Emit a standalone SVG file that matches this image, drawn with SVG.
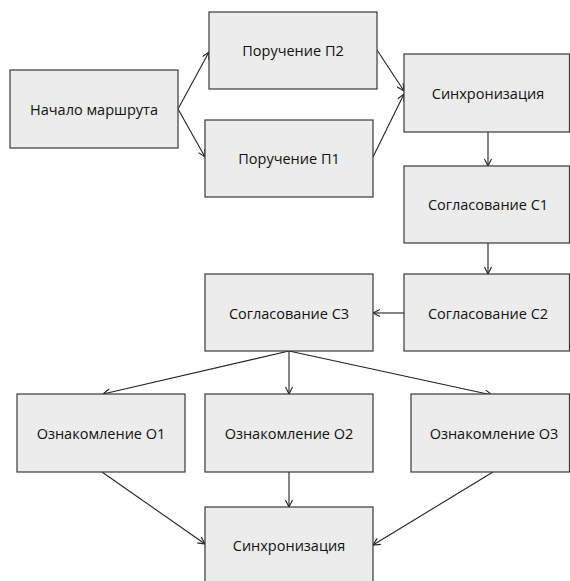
<svg xmlns="http://www.w3.org/2000/svg" width="570" height="581" viewBox="0 0 570 581">
<defs>
<style>
.box{fill:#ececec;stroke:#3a3a3a;stroke-width:1.2}
.lbl{font-family:"Open Sans","Liberation Sans",Arial,sans-serif;font-size:14.5px;fill:#111;text-anchor:middle;dominant-baseline:central}
.edge{fill:none;stroke:#222;stroke-width:1.1;marker-end:url(#arr)}
</style>
<marker id="arr" markerUnits="userSpaceOnUse" markerWidth="10" markerHeight="10" refX="8" refY="4" orient="auto">
<path d="M1,0.5 L8,4 L1,7.5" fill="none" stroke="#222" stroke-width="1.1"/>
</marker>
</defs>
<rect width="570" height="581" fill="#fff"/>
<g id="connectors">
<line class="edge" x1="178" y1="109" x2="209" y2="52"/>
<line class="edge" x1="178" y1="109" x2="205" y2="157"/>
<line class="edge" x1="377" y1="50" x2="404" y2="91"/>
<line class="edge" x1="373" y1="157" x2="404" y2="94"/>
<line class="edge" x1="488" y1="132" x2="488" y2="166"/>
<line class="edge" x1="488" y1="243" x2="488" y2="274"/>
<line class="edge" x1="404" y1="313" x2="373" y2="313"/>
<line class="edge" x1="289" y1="351" x2="103" y2="394"/>
<line class="edge" x1="289" y1="351" x2="289" y2="394"/>
<line class="edge" x1="289" y1="351" x2="492" y2="395"/>
<line class="edge" x1="102" y1="472" x2="205" y2="544"/>
<line class="edge" x1="289" y1="472" x2="289" y2="507"/>
<line class="edge" x1="493" y1="472" x2="373" y2="545"/>
</g>
<g id="start"><rect class="box" x="10" y="70" width="168" height="78"/><text class="lbl" x="94" y="109">Начало маршрута</text></g>
<g id="p2"><rect class="box" x="209" y="12" width="168" height="77"/><text class="lbl" x="293" y="50">Поручение П2</text></g>
<g id="p1"><rect class="box" x="205" y="120" width="168" height="77"/><text class="lbl" x="289" y="158">Поручение П1</text></g>
<g id="sync1"><rect class="box" x="404" y="54" width="165.5" height="78"/><text class="lbl" x="488" y="93">Синхронизация</text></g>
<g id="c1"><rect class="box" x="404" y="166" width="165.5" height="77"/><text class="lbl" x="488" y="204">Согласование С1</text></g>
<g id="c2"><rect class="box" x="404" y="274" width="165.5" height="77"/><text class="lbl" x="488" y="313">Согласование С2</text></g>
<g id="c3"><rect class="box" x="205" y="274" width="168" height="77"/><text class="lbl" x="289" y="313">Согласование С3</text></g>
<g id="o1"><rect class="box" x="17" y="394" width="168" height="78"/><text class="lbl" x="101" y="433">Ознакомление О1</text></g>
<g id="o2"><rect class="box" x="205" y="394" width="168" height="78"/><text class="lbl" x="289" y="433">Ознакомление О2</text></g>
<g id="o3"><rect class="box" x="411" y="394" width="158.5" height="78"/><text class="lbl" x="494" y="433">Ознакомление О3</text></g>
<g id="sync2"><rect class="box" x="205" y="507" width="168" height="80"/><text class="lbl" x="289" y="545">Синхронизация</text></g>
</svg>
